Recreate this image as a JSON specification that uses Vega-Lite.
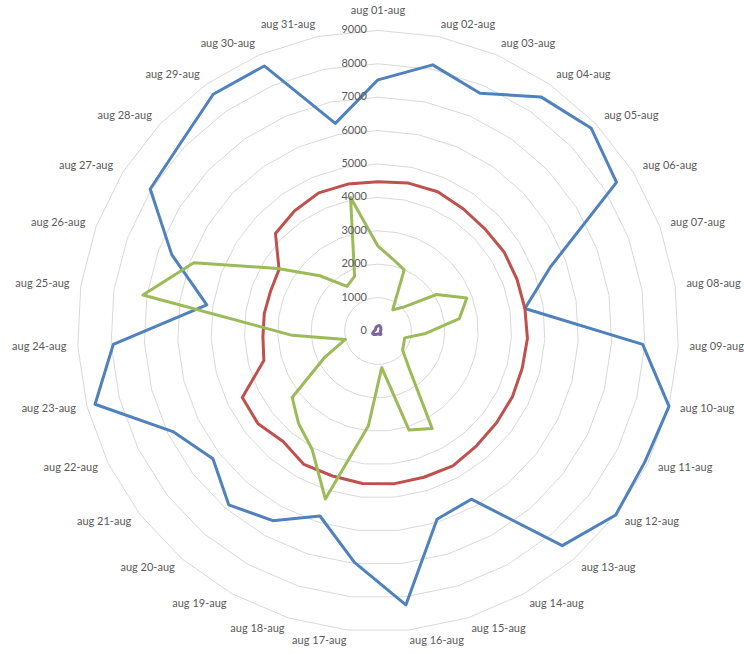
{
  "$schema": "https://vega.github.io/schema/vega-lite/v6.json",
  "width": 744,
  "height": 654,
  "autosize": "none",
  "padding": 0,
  "background": "white",
  "config": {"view": {"stroke": null}, "text": {"font": "Lato", "fontSize": 11, "fill": "#595959"}},
  "datasets": {
    "main": [
      {"date": "aug 01-aug", "day": 1, "Serie 1": 7520, "Serie 2": 4470, "Serie 3": 2540, "Serie 4": 150},
      {"date": "aug 02-aug", "day": 2, "Serie 1": 8135, "Serie 2": 4520, "Serie 3": 2200, "Serie 4": 170},
      {"date": "aug 03-aug", "day": 3, "Serie 1": 7745, "Serie 2": 4535, "Serie 3": 1990, "Serie 4": 160},
      {"date": "aug 04-aug", "day": 4, "Serie 1": 8540, "Serie 2": 4460, "Serie 3": 770, "Serie 4": 140},
      {"date": "aug 05-aug", "day": 5, "Serie 1": 8810, "Serie 2": 4425, "Serie 3": 1030, "Serie 4": 120},
      {"date": "aug 06-aug", "day": 6, "Serie 1": 8415, "Serie 2": 4455, "Serie 3": 2065, "Serie 4": 100},
      {"date": "aug 07-aug", "day": 7, "Serie 1": 5500, "Serie 2": 4440, "Serie 3": 2835, "Serie 4": 90},
      {"date": "aug 08-aug", "day": 8, "Serie 1": 4450, "Serie 2": 4450, "Serie 3": 2465, "Serie 4": 80},
      {"date": "aug 09-aug", "day": 9, "Serie 1": 7935, "Serie 2": 4480, "Serie 3": 1430, "Serie 4": 70},
      {"date": "aug 10-aug", "day": 10, "Serie 1": 9000, "Serie 2": 4460, "Serie 3": 825, "Serie 4": 80},
      {"date": "aug 11-aug", "day": 11, "Serie 1": 8900, "Serie 2": 4480, "Serie 3": 860, "Serie 4": 90},
      {"date": "aug 12-aug", "day": 12, "Serie 1": 9000, "Serie 2": 4490, "Serie 3": 930, "Serie 4": 110},
      {"date": "aug 13-aug", "day": 13, "Serie 1": 8470, "Serie 2": 4530, "Serie 3": 1400, "Serie 4": 130},
      {"date": "aug 14-aug", "day": 14, "Serie 1": 5760, "Serie 2": 4620, "Serie 3": 3340, "Serie 4": 120},
      {"date": "aug 15-aug", "day": 15, "Serie 1": 5905, "Serie 2": 4590, "Serie 3": 3110, "Serie 4": 100},
      {"date": "aug 16-aug", "day": 16, "Serie 1": 8245, "Serie 2": 4600, "Serie 3": 1100, "Serie 4": 90},
      {"date": "aug 17-aug", "day": 17, "Serie 1": 6965, "Serie 2": 4590, "Serie 3": 2860, "Serie 4": 80},
      {"date": "aug 18-aug", "day": 18, "Serie 1": 5805, "Serie 2": 4550, "Serie 3": 5270, "Serie 4": 100},
      {"date": "aug 19-aug", "day": 19, "Serie 1": 6495, "Serie 2": 4570, "Serie 3": 4060, "Serie 4": 120},
      {"date": "aug 20-aug", "day": 20, "Serie 1": 6860, "Serie 2": 4360, "Serie 3": 3650, "Serie 4": 140},
      {"date": "aug 21-aug", "day": 21, "Serie 1": 6250, "Serie 2": 4540, "Serie 3": 3250, "Serie 4": 170},
      {"date": "aug 22-aug", "day": 22, "Serie 1": 6840, "Serie 2": 4525, "Serie 3": 1770, "Serie 4": 180},
      {"date": "aug 23-aug", "day": 23, "Serie 1": 8750, "Serie 2": 3530, "Serie 3": 1010, "Serie 4": 150},
      {"date": "aug 24-aug", "day": 24, "Serie 1": 7935, "Serie 2": 3450, "Serie 3": 2570, "Serie 4": 120},
      {"date": "aug 25-aug", "day": 25, "Serie 1": 5185, "Serie 2": 3445, "Serie 3": 7120, "Serie 4": 100},
      {"date": "aug 26-aug", "day": 26, "Serie 1": 6585, "Serie 2": 3430, "Serie 3": 5880, "Serie 4": 90},
      {"date": "aug 27-aug", "day": 27, "Serie 1": 8035, "Serie 2": 3490, "Serie 3": 3540, "Serie 4": 80},
      {"date": "aug 28-aug", "day": 28, "Serie 1": 8160, "Serie 2": 4235, "Serie 3": 2400, "Serie 4": 100},
      {"date": "aug 29-aug", "day": 29, "Serie 1": 8635, "Serie 2": 4380, "Serie 3": 1625, "Serie 4": 110},
      {"date": "aug 30-aug", "day": 30, "Serie 1": 8635, "Serie 2": 4500, "Serie 3": 1780, "Serie 4": 130},
      {"date": "aug 31-aug", "day": 31, "Serie 1": 6345, "Serie 2": 4490, "Serie 3": 4080, "Serie 4": 140}
    ],
    "grid": [
      {"ring": 0, "day": [1,2,3,4,5,6,7,8,9,10,11,12,13,14,15,16,17,18,19,20,21,22,23,24,25,26,27,28,29,30,31]},
      {"ring": 1000, "day": [1,2,3,4,5,6,7,8,9,10,11,12,13,14,15,16,17,18,19,20,21,22,23,24,25,26,27,28,29,30,31]},
      {"ring": 2000, "day": [1,2,3,4,5,6,7,8,9,10,11,12,13,14,15,16,17,18,19,20,21,22,23,24,25,26,27,28,29,30,31]},
      {"ring": 3000, "day": [1,2,3,4,5,6,7,8,9,10,11,12,13,14,15,16,17,18,19,20,21,22,23,24,25,26,27,28,29,30,31]},
      {"ring": 4000, "day": [1,2,3,4,5,6,7,8,9,10,11,12,13,14,15,16,17,18,19,20,21,22,23,24,25,26,27,28,29,30,31]},
      {"ring": 5000, "day": [1,2,3,4,5,6,7,8,9,10,11,12,13,14,15,16,17,18,19,20,21,22,23,24,25,26,27,28,29,30,31]},
      {"ring": 6000, "day": [1,2,3,4,5,6,7,8,9,10,11,12,13,14,15,16,17,18,19,20,21,22,23,24,25,26,27,28,29,30,31]},
      {"ring": 7000, "day": [1,2,3,4,5,6,7,8,9,10,11,12,13,14,15,16,17,18,19,20,21,22,23,24,25,26,27,28,29,30,31]},
      {"ring": 8000, "day": [1,2,3,4,5,6,7,8,9,10,11,12,13,14,15,16,17,18,19,20,21,22,23,24,25,26,27,28,29,30,31]},
      {"ring": 9000, "day": [1,2,3,4,5,6,7,8,9,10,11,12,13,14,15,16,17,18,19,20,21,22,23,24,25,26,27,28,29,30,31]}
    ]
  },
  "layer": [
    {
      "data": {"name": "grid"},
      "transform": [
        {"filter": "datum.ring > 0"},
        {"flatten": ["day"]},
        {"calculate": "(datum.day - 1) * 2 * PI / 31", "as": "t"},
        {"calculate": "datum.ring * sin(datum.t)", "as": "x"},
        {"calculate": "datum.ring * cos(datum.t)", "as": "y"}
      ],
      "mark": {"type": "line", "interpolate": "linear-closed", "stroke": "#d9d9d9", "strokeWidth": 1},
      "encoding": {
        "x": {"field": "x", "type": "quantitative", "scale": {"domain": [-11317, 10958], "nice": false, "zero": false}, "axis": null},
        "y": {"field": "y", "type": "quantitative", "scale": {"domain": [-9671, 9910], "nice": false, "zero": false}, "axis": null},
        "detail": {"field": "ring", "type": "nominal"},
        "order": {"field": "day", "type": "quantitative"}
      }
    },
    {
      "data": {"name": "main"},
      "transform": [
        {"fold": ["Serie 1", "Serie 2", "Serie 3", "Serie 4"], "as": ["series", "value"]},
        {"calculate": "(datum.day - 1) * 2 * PI / 31", "as": "t"},
        {"calculate": "datum.value * sin(datum.t)", "as": "x"},
        {"calculate": "datum.value * cos(datum.t)", "as": "y"}
      ],
      "mark": {"type": "line", "interpolate": "linear-closed", "strokeWidth": 3, "strokeJoin": "round"},
      "encoding": {
        "x": {"field": "x", "type": "quantitative", "scale": {"domain": [-11317, 10958], "nice": false, "zero": false}, "axis": null},
        "y": {"field": "y", "type": "quantitative", "scale": {"domain": [-9671, 9910], "nice": false, "zero": false}, "axis": null},
        "color": {"field": "series", "type": "nominal", "scale": {"domain": ["Serie 1", "Serie 2", "Serie 3", "Serie 4"], "range": ["#4f81bd", "#c0504d", "#9bbb59", "#8064a2"]}, "legend": null},
        "order": {"field": "day", "type": "quantitative"}
      }
    },
    {
      "data": {"name": "grid"},
      "mark": {"type": "text", "align": "right", "baseline": "middle", "dx": -11},
      "encoding": {
        "x": {"datum": 0, "type": "quantitative"},
        "y": {"field": "ring", "type": "quantitative"},
        "text": {"field": "ring", "type": "quantitative", "format": "d"}
      }
    },
    {
      "data": {"name": "main"},
      "transform": [
        {"calculate": "(datum.day - 1) * 2 * PI / 31", "as": "t"},
        {"calculate": "9341 * sin(datum.t)", "as": "lx"},
        {"calculate": "9341 * cos(datum.t)", "as": "ly"},
        {"filter": "sin(datum.t) > 0.01"}
      ],
      "mark": {"type": "text", "align": "left", "baseline": "middle"},
      "encoding": {
        "x": {"field": "lx", "type": "quantitative"},
        "y": {"field": "ly", "type": "quantitative"},
        "text": {"field": "date", "type": "nominal"}
      }
    },
    {
      "data": {"name": "main"},
      "transform": [
        {"calculate": "(datum.day - 1) * 2 * PI / 31", "as": "t"},
        {"calculate": "9341 * sin(datum.t)", "as": "lx"},
        {"calculate": "9341 * cos(datum.t)", "as": "ly"},
        {"filter": "sin(datum.t) < -0.01"}
      ],
      "mark": {"type": "text", "align": "right", "baseline": "middle"},
      "encoding": {
        "x": {"field": "lx", "type": "quantitative"},
        "y": {"field": "ly", "type": "quantitative"},
        "text": {"field": "date", "type": "nominal"}
      }
    },
    {
      "data": {"name": "main"},
      "transform": [
        {"calculate": "(datum.day - 1) * 2 * PI / 31", "as": "t"},
        {"calculate": "9341 * sin(datum.t)", "as": "lx"},
        {"calculate": "9341 * cos(datum.t)", "as": "ly"},
        {"filter": "abs(sin(datum.t)) <= 0.01"}
      ],
      "mark": {"type": "text", "align": "center", "baseline": "bottom", "dy": -3},
      "encoding": {
        "x": {"field": "lx", "type": "quantitative"},
        "y": {"field": "ly", "type": "quantitative"},
        "text": {"field": "date", "type": "nominal"}
      }
    }
  ]
}
